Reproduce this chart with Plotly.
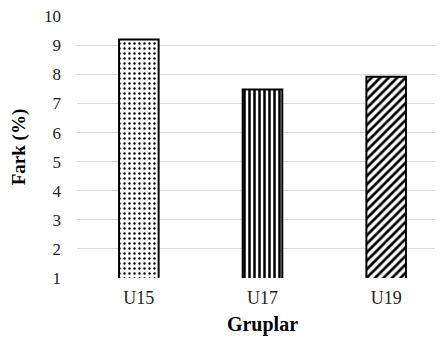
import plotly.graph_objects as go

categories = ["U15", "U17", "U19"]
values = [9.2, 7.48, 7.92]
shapes = [".", "|", "/"]
sizes = [5, 5, 6]
solid = [0.18, 0.5, 0.45]
tick_vals = [1, 2, 3, 4, 5, 6, 7, 8, 9, 10]

fig = go.Figure()
fig.add_trace(go.Bar(
    x=categories, y=values,
    width=0.32,
    marker=dict(
        color="white",
        line=dict(color="black", width=2),
        pattern=dict(shape=shapes, fgcolor="black", bgcolor="white",
                     size=sizes, solidity=solid, fgopacity=1),
    ),
))

fig.update_layout(
    width=443, height=341,
    margin=dict(l=69, r=3, t=8, b=71, autoexpand=False),
    paper_bgcolor="white", plot_bgcolor="white",
    font=dict(family="Liberation Serif", color="#222", size=17),
    showlegend=False,
    xaxis=dict(
        title=dict(text="<b>Gruplar</b>", font=dict(size=20, color="black"), standoff=9),
        tickfont=dict(size=18, color="#222"),
        ticklabelstandoff=7,
        showgrid=False, showline=False, ticks="", automargin=False,
    ),
    yaxis=dict(
        title=dict(text="<b>Fark (%)</b>", font=dict(size=19, color="black"), standoff=24),
        range=[1, 10.01], tickmode="array", tickvals=tick_vals,
        tickfont=dict(size=17, color="#222"),
        ticklabelstandoff=15, ticklabeloverflow="allow",
        showgrid=True, gridcolor="#d9d9d9", gridwidth=1.3,
        zeroline=False, showline=False, ticks="", automargin=False,
    ),
)

fig.write_html("out.html")
